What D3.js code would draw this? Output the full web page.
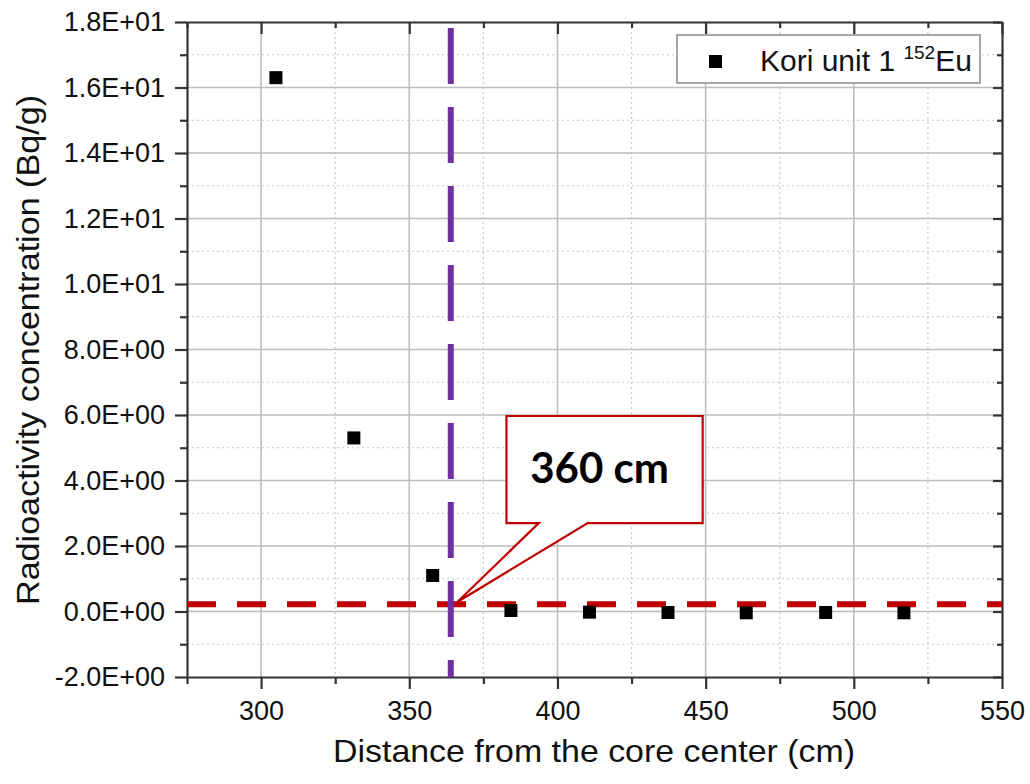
<!DOCTYPE html>
<html><head><meta charset="utf-8">
<script src="https://cdn.jsdelivr.net/npm/d3@7/dist/d3.min.js"></script>
<style>body{margin:0;background:#fff;} svg{display:block;}</style>
</head><body>
<svg id="c" width="1030" height="784"></svg>
<script>
// ---- data ----
const distances = [305, 331.3, 357.9, 384.3, 410.8, 437.3, 463.7, 490.5, 516.9];
const activity  = [16.3, 5.3, 1.1, 0.03, -0.02, -0.03, -0.04, -0.03, -0.04];
const xTicks = [300, 350, 400, 450, 500, 550];
const yTicks = [-2, 0, 2, 4, 6, 8, 10, 12, 14, 16, 18];
const xMinor = [275, 325, 375, 425, 475, 525];
const yMinor = [-1, 1, 3, 5, 7, 9, 11, 13, 15, 17];
const thresholdY = 0.22;      // red dashed horizontal line
const boundaryX = 364;        // purple dashed vertical line
const calloutText = "360 cm";
const calloutBox = {x0: 382.8, x1: 449, y0: 5.97, y1: 2.7};
const calloutTail = {b0: 393.7, b1: 410.2, tipX: 366.2, tipY: 0.29};
const seriesName = "Kori unit 1 ";
const seriesSup = "152";
const seriesEl = "Eu";

(function(){
// ---- layout ----
const svg = d3.select("#c");
const L = 187, R = 1002, T = 22, B = 677;
const x = d3.scaleLinear().domain([275, 550]).range([L, R]);
const y = d3.scaleLinear().domain([-2, 18]).range([B, T]);
const font = "'Liberation Sans', Arial, sans-serif";
const axisCol = "#333";

function fmtE(v){
  if (v === 0) return "0.0E+00";
  const e = Math.floor(Math.log10(Math.abs(v)) + 1e-9);
  const m = v / Math.pow(10, e);
  return m.toFixed(1) + "E" + (e >= 0 ? "+" : "-") + String(Math.abs(e)).padStart(2, "0");
}

// grid minor (dotted)
const g = svg.append("g");
g.selectAll(".gxm").data(xMinor.filter(d => d > 275)).join("line")
  .attr("x1", d => x(d)).attr("x2", d => x(d)).attr("y1", T).attr("y2", B)
  .attr("stroke", "#c8c8c8").attr("stroke-width", 1.2).attr("stroke-dasharray", "2,3");
g.selectAll(".gym").data(yMinor).join("line")
  .attr("y1", d => y(d)).attr("y2", d => y(d)).attr("x1", L).attr("x2", R)
  .attr("stroke", "#c8c8c8").attr("stroke-width", 1.2).attr("stroke-dasharray", "2,3");
// grid major
g.selectAll(".gx").data(xTicks.filter(d => d < 550)).join("line")
  .attr("x1", d => x(d)).attr("x2", d => x(d)).attr("y1", T).attr("y2", B)
  .attr("stroke", "#bdbdbd").attr("stroke-width", 1.6);
g.selectAll(".gy").data(yTicks.filter(d => d > -2 && d < 18)).join("line")
  .attr("y1", d => y(d)).attr("y2", d => y(d)).attr("x1", L).attr("x2", R)
  .attr("stroke", "#bdbdbd").attr("stroke-width", 1.6);

// axes
function styleAxis(sel){
  sel.select(".domain").attr("stroke", axisCol).attr("stroke-width", 2.2);
  sel.selectAll(".tick line").attr("stroke", axisCol).attr("stroke-width", 2.2);
  sel.selectAll("text").attr("font-family", font).attr("fill", "#111");
}
function minorStyle(s){ s.select(".domain").remove(); s.selectAll("line").attr("stroke", axisCol).attr("stroke-width", 2.2); }

const bottomAx = svg.append("g").attr("transform", `translate(0,${B})`)
  .call(d3.axisBottom(x).tickValues(xTicks).tickSize(12).tickSizeOuter(0).tickPadding(12).tickFormat(d3.format("d")));
styleAxis(bottomAx);
bottomAx.selectAll("text").attr("font-size", 27);
svg.append("g").attr("transform", `translate(0,${B})`)
  .call(d3.axisBottom(x).tickValues(xMinor).tickSize(7).tickFormat("")).call(minorStyle);

const leftAx = svg.append("g").attr("transform", `translate(${L},0)`)
  .call(d3.axisLeft(y).tickValues(yTicks).tickSize(12).tickSizeOuter(0).tickPadding(10).tickFormat(fmtE));
styleAxis(leftAx);
leftAx.selectAll("text").attr("font-size", 27);
svg.append("g").attr("transform", `translate(${L},0)`)
  .call(d3.axisLeft(y).tickValues(yMinor).tickSize(7).tickFormat("")).call(minorStyle);

// top axis (inward ticks)
const topAx = svg.append("g").attr("transform", `translate(0,${T})`)
  .call(d3.axisBottom(x).tickValues(xTicks).tickSize(12).tickSizeOuter(0).tickFormat(""));
styleAxis(topAx);
svg.append("g").attr("transform", `translate(0,${T})`)
  .call(d3.axisBottom(x).tickValues(xMinor).tickSize(6).tickFormat("")).call(minorStyle);
// right axis (inward ticks)
const rightAx = svg.append("g").attr("transform", `translate(${R},0)`)
  .call(d3.axisLeft(y).tickValues(yTicks).tickSize(9).tickSizeOuter(0).tickFormat(""));
styleAxis(rightAx);
svg.append("g").attr("transform", `translate(${R},0)`)
  .call(d3.axisLeft(y).tickValues(yMinor).tickSize(5).tickFormat("")).call(minorStyle);

// red dashed threshold
svg.append("line")
  .attr("x1", L).attr("x2", R).attr("y1", y(thresholdY)).attr("y2", y(thresholdY))
  .attr("stroke", "#c00000").attr("stroke-width", 6).attr("stroke-dasharray", "29,21");

// purple dashed vertical
svg.append("line")
  .attr("x1", x(boundaryX)).attr("x2", x(boundaryX)).attr("y1", T + 6).attr("y2", B)
  .attr("stroke", "#7030a0").attr("stroke-width", 6).attr("stroke-dasharray", "56,23");

// points
svg.selectAll(".pt").data(distances.map((d, i) => [d, activity[i]])).join("rect")
  .attr("x", d => x(d[0]) - 6.5).attr("y", d => y(d[1]) - 6.5)
  .attr("width", 13).attr("height", 13).attr("fill", "#000");

// callout
const bx0 = x(calloutBox.x0), bx1 = x(calloutBox.x1), by0 = y(calloutBox.y0), by1 = y(calloutBox.y1);
const t0 = x(calloutTail.b0), t1 = x(calloutTail.b1), tx = x(calloutTail.tipX), ty = y(calloutTail.tipY);
svg.append("path")
  .attr("d", `M${bx0},${by0}L${bx1},${by0}L${bx1},${by1}L${t1},${by1}L${tx},${ty}L${t0},${by1}L${bx0},${by1}Z`)
  .attr("fill", "#fff").attr("stroke", "#c00000").attr("stroke-width", 2.2).attr("stroke-linejoin", "miter");
svg.append("text").attr("x", (bx0 + bx1) / 2 - 5).attr("y", by0 + 67)
  .attr("text-anchor", "middle").attr("font-family", "Lato, 'Open Sans', sans-serif")
  .attr("font-weight", 700).attr("font-size", 42).attr("fill", "#000").text(calloutText);

// legend
const lg = svg.append("g");
lg.append("rect").attr("x", 677).attr("y", 35).attr("width", 303).attr("height", 48)
  .attr("fill", "#fff").attr("stroke", "#8a8a8a").attr("stroke-width", 1.5);
lg.append("rect").attr("x", 709).attr("y", 55).attr("width", 13).attr("height", 13).attr("fill", "#000");
const lt = lg.append("text").attr("x", 760).attr("y", 71).attr("font-family", font)
  .attr("font-size", 30).attr("fill", "#111");
lt.append("tspan").text(seriesName);
lt.append("tspan").attr("font-size", 19).attr("dy", -12).text(seriesSup);
lt.append("tspan").attr("dy", 12).text(seriesEl);

// axis titles
svg.append("text").attr("x", 333).attr("y", 762)
  .attr("font-family", font).attr("font-size", 32).attr("fill", "#111")
  .attr("textLength", 522).attr("lengthAdjust", "spacingAndGlyphs")
  .text("Distance from the core center (cm)");
svg.append("text").attr("transform", `translate(39,605) rotate(-90)`)
  .attr("font-family", font).attr("font-size", 32).attr("fill", "#111")
  .attr("textLength", 510).attr("lengthAdjust", "spacingAndGlyphs")
  .text("Radioactivity concentration (Bq/g)");
})();
</script>
</body></html>
